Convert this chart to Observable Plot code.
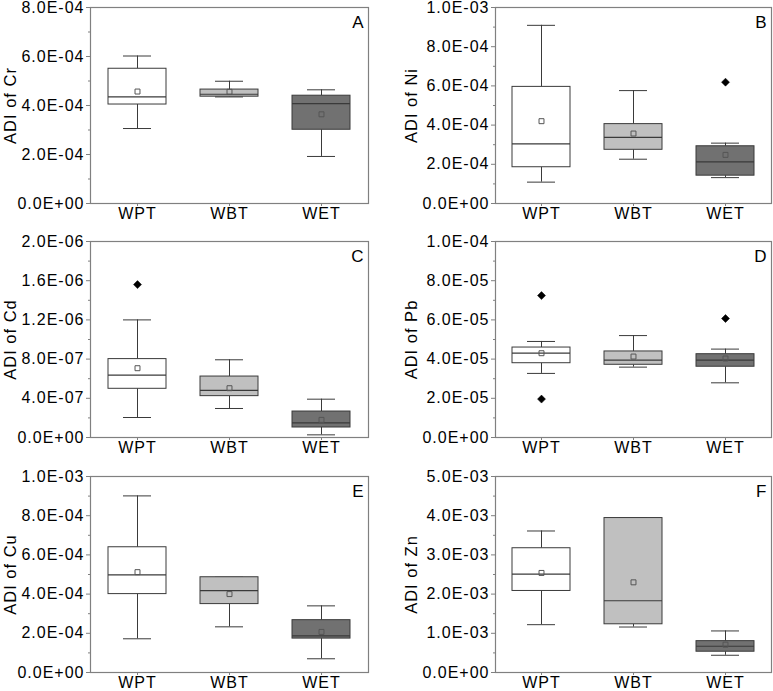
<!DOCTYPE html>
<html>
<head>
<meta charset="utf-8">
<script src="https://cdn.jsdelivr.net/npm/d3@7"></script>
<script src="https://cdn.jsdelivr.net/npm/@observablehq/plot@0.6"></script>
<style>
  html, body { margin: 0; padding: 0; background: #fff; }
  #chart { position: relative; width: 773px; height: 691px; overflow: hidden; }
  #chart > div { position: absolute; }
</style>
</head>
<body>
<div id="chart"></div>
<script>
// Categories
const groups = ["WPT", "WBT", "WET"];
const groupFill = ["#ffffff", "#c0c0c0", "#717171"];

// Box statistics per group: [lowerWhisker, q1, median, q3, upperWhisker, mean]
const crBox = [
  [3.06e-4, 4.04e-4, 4.35e-4, 5.50e-4, 6.02e-4, 4.57e-4],
  [4.35e-4, 4.36e-4, 4.46e-4, 4.65e-4, 4.99e-4, 4.56e-4],
  [1.92e-4, 3.01e-4, 4.08e-4, 4.40e-4, 4.64e-4, 3.64e-4]
];
const niBox = [
  [1.09e-4, 1.85e-4, 3.04e-4, 5.95e-4, 9.09e-4, 4.20e-4],
  [2.26e-4, 2.74e-4, 3.37e-4, 4.05e-4, 5.76e-4, 3.57e-4],
  [1.32e-4, 1.42e-4, 2.12e-4, 2.92e-4, 3.08e-4, 2.48e-4]
];
const cdBox = [
  [2.04e-7, 4.97e-7, 6.36e-7, 8.00e-7, 1.20e-6, 7.07e-7],
  [2.96e-7, 4.22e-7, 4.80e-7, 6.22e-7, 7.93e-7, 5.03e-7],
  [2.7e-8, 1.02e-7, 1.50e-7, 2.65e-7, 3.91e-7, 1.80e-7]
];
const pbBox = [
  [3.27e-5, 3.79e-5, 4.30e-5, 4.59e-5, 4.90e-5, 4.30e-5],
  [3.59e-5, 3.71e-5, 3.95e-5, 4.39e-5, 5.20e-5, 4.13e-5],
  [2.79e-5, 3.61e-5, 3.95e-5, 4.25e-5, 4.51e-5, 4.03e-5]
];
const cuBox = [
  [1.72e-4, 4.00e-4, 4.98e-4, 6.39e-4, 9.01e-4, 5.12e-4],
  [2.33e-4, 3.49e-4, 4.18e-4, 4.86e-4, 4.86e-4, 4.00e-4],
  [0.70e-4, 1.73e-4, 1.87e-4, 2.67e-4, 3.40e-4, 2.07e-4]
];
const znBox = [
  [1.22e-3, 2.08e-3, 2.51e-3, 3.17e-3, 3.61e-3, 2.54e-3],
  [1.16e-3, 1.23e-3, 1.83e-3, 3.94e-3, 3.94e-3, 2.30e-3],
  [0.44e-3, 0.53e-3, 0.67e-3, 0.80e-3, 1.06e-3, 0.71e-3]
];

// Outliers: [group, value]
const crOut = [];
const niOut = [["WET", 6.19e-4]];
const cdOut = [["WPT", 1.56e-6]];
const pbOut = [["WPT", 7.24e-5], ["WPT", 1.96e-5], ["WET", 6.07e-5]];
const cuOut = [];
const znOut = [];

// Y axis tick values
const crTicks = [0, 2e-4, 4e-4, 6e-4, 8e-4];
const niTicks = [0, 2e-4, 4e-4, 6e-4, 8e-4, 1e-3];
const cdTicks = [0, 4e-7, 8e-7, 1.2e-6, 1.6e-6, 2e-6];
const pbTicks = [0, 2e-5, 4e-5, 6e-5, 8e-5, 1e-4];
const cuTicks = [0, 2e-4, 4e-4, 6e-4, 8e-4, 1e-3];
const znTicks = [0, 1e-3, 2e-3, 3e-3, 4e-3, 5e-3];

const panels = [
  {box: crBox, out: crOut, ticks: crTicks, label: "ADI of Cr", letter: "A"},
  {box: niBox, out: niOut, ticks: niTicks, label: "ADI of Ni", letter: "B"},
  {box: cdBox, out: cdOut, ticks: cdTicks, label: "ADI of Cd", letter: "C"},
  {box: pbBox, out: pbOut, ticks: pbTicks, label: "ADI of Pb", letter: "D"},
  {box: cuBox, out: cuOut, ticks: cuTicks, label: "ADI of Cu", letter: "E"},
  {box: znBox, out: znOut, ticks: znTicks, label: "ADI of Zn", letter: "F"}
];

function fmtExp(d) {
  const s = d.toExponential(1);
  const [m, e] = s.split("e");
  const sign = e[0] === "-" ? "-" : "+";
  const digits = e.replace(/[+-]/, "").padStart(2, "0");
  return m + "E" + sign + digits;
}

const chart = document.getElementById("chart");
const gray = "#808080";
const dark = "#3a3a3a";

panels.forEach((p, i) => {
  const col = i % 2, row = Math.floor(i / 2);
  const left = col === 0 ? 0 : 385;
  const width = col === 0 ? 386 : 388;
  const top = [0, 234, 469][row];
  const marginLeft = col === 0 ? 90 : 110;
  const marginRight = col === 0 ? 18 : 2;

  const rows = groups.map((g, j) => ({
    g, fill: groupFill[j],
    lo: p.box[j][0], q1: p.box[j][1], med: p.box[j][2],
    q3: p.box[j][3], hi: p.box[j][4], mean: p.box[j][5]
  }));
  const outs = p.out.map(([g, v]) => ({g, v}));
  const dmax = p.ticks[p.ticks.length - 1];
  const minor = [];
  for (let k = 0; k < p.ticks.length - 1; k++) minor.push((p.ticks[k] + p.ticks[k + 1]) / 2);

  const svg = Plot.plot({
    width, height: 222,
    marginLeft, marginRight, marginTop: 7, marginBottom: 19,
    style: {fontFamily: "'Liberation Sans', Arial, sans-serif", fontSize: "16px", color: "#000", letterSpacing: "1px", background: "#fff", overflow: "visible"},
    x: {type: "band", domain: groups, padding: 0},
    y: {domain: [0, dmax]},
    marks: [
      // whiskers
      Plot.ruleX(rows, {x: "g", y1: "lo", y2: "q1", stroke: dark, strokeWidth: 1}),
      Plot.ruleX(rows, {x: "g", y1: "q3", y2: "hi", stroke: dark, strokeWidth: 1}),
      Plot.tickY(rows, {x: "g", y: "lo", stroke: dark, insetLeft: 32, insetRight: 32}),
      Plot.tickY(rows, {x: "g", y: "hi", stroke: dark, insetLeft: 32, insetRight: 32}),
      // boxes
      Plot.barY(rows, {x: "g", y1: "q1", y2: "q3", fill: d => d.fill, stroke: dark, strokeWidth: 1, insetLeft: 17, insetRight: 17}),
      Plot.tickY(rows, {x: "g", y: "med", stroke: dark, strokeWidth: 1.2, insetLeft: 17, insetRight: 17}),
      // mean
      Plot.dot(rows, {x: "g", y: "mean", symbol: "square", r: 2.8, stroke: "#555", fill: "none", strokeWidth: 1}),
      // outliers
      Plot.dot(outs, {x: "g", y: "v", symbol: "diamond2", r: 3.6, fill: "#000", stroke: "#000", strokeWidth: 0.5}),
      // frame and axes
      Plot.frame({stroke: gray, strokeWidth: 1.2}),
      Plot.axisY({ticks: p.ticks, tickSize: 4, tickPadding: 2, stroke: gray, fill: "#000", tickFormat: fmtExp, label: null, fontSize: 16}),
      Plot.axisY({ticks: minor, tickSize: 2, stroke: gray, tickFormat: () => "", label: null}),
      Plot.axisX({tickSize: 3, tickPadding: 1, stroke: gray, fill: "#000", label: null, fontSize: 16}),
      // y axis title
      Plot.text([p.label], {frameAnchor: "left", text: d => d, rotate: -90, dx: col === 0 ? -80 : -84, fontSize: 16.5, fill: "#000", textAnchor: "middle", lineAnchor: "middle"}),
      // panel letter
      Plot.text([p.letter], {frameAnchor: "top-right", text: d => d, dx: -4, dy: 8, fontSize: 17, fill: "#000"})
    ]
  });
  const wrap = document.createElement("div");
  wrap.style.left = left + "px";
  wrap.style.top = top + "px";
  wrap.appendChild(svg);
  chart.appendChild(wrap);
});
</script>
</body>
</html>
